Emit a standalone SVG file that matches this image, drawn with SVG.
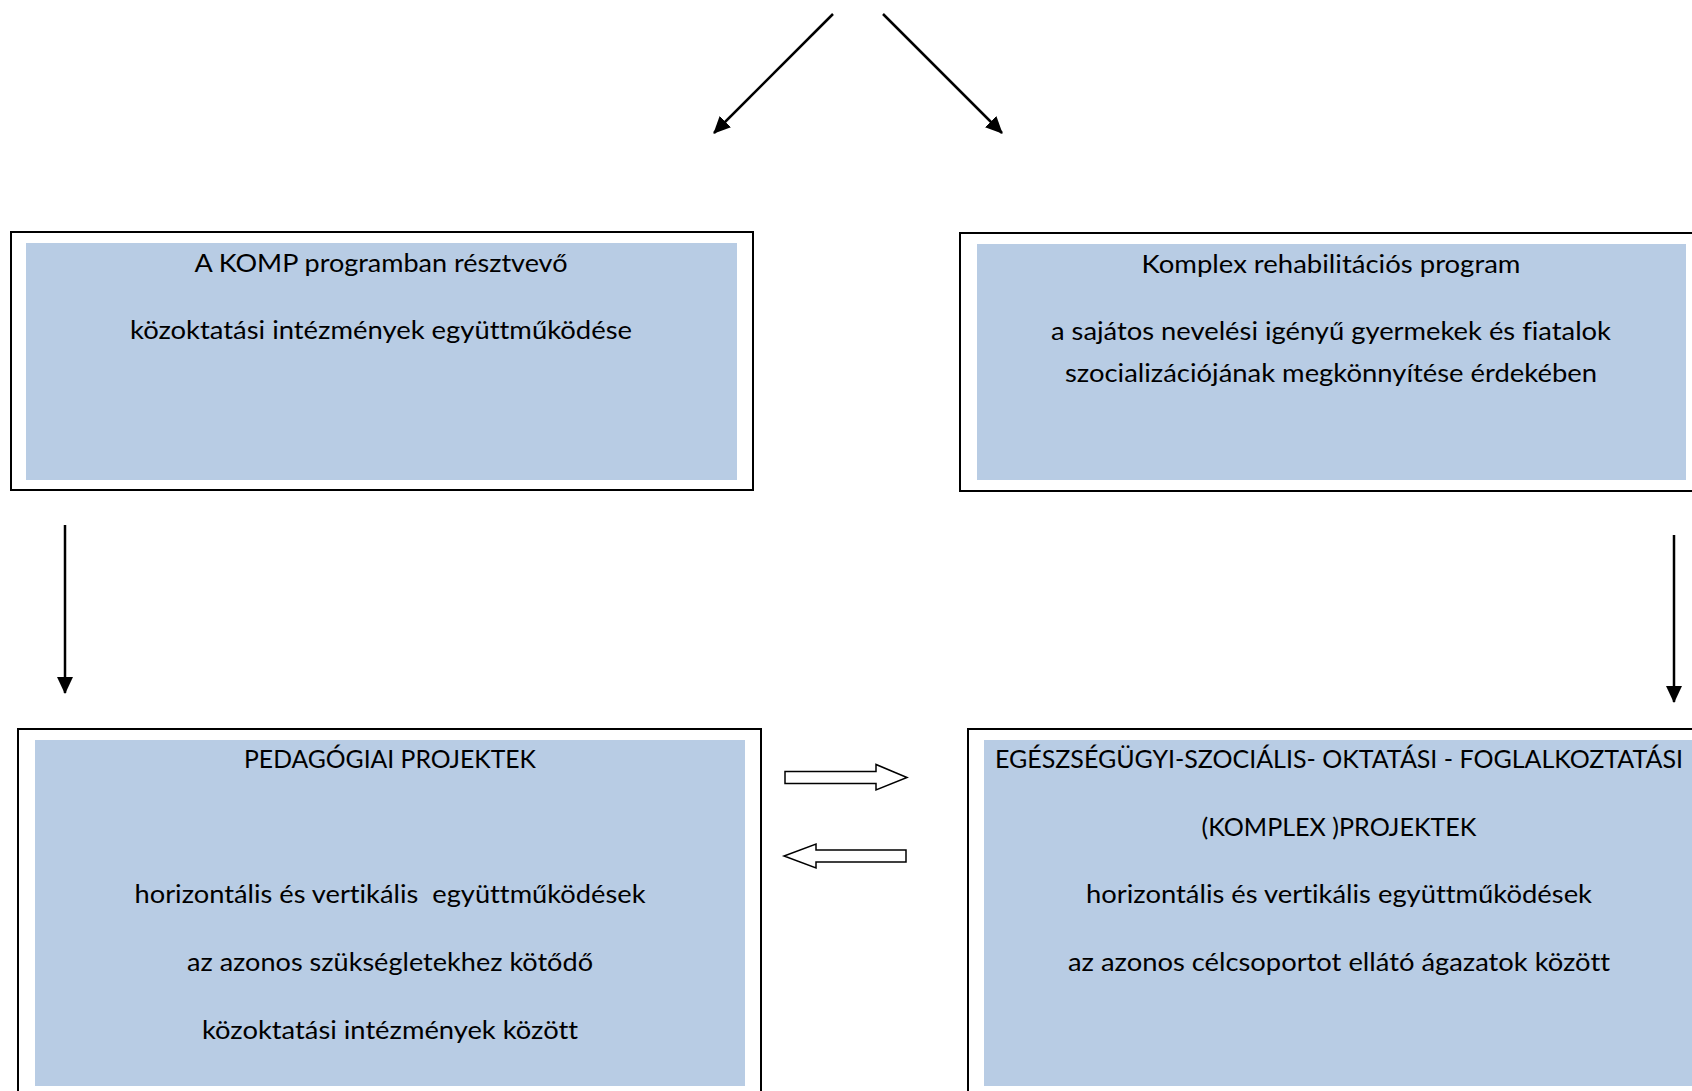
<svg xmlns="http://www.w3.org/2000/svg" width="1692" height="1091" viewBox="0 0 1692 1091">
<style>
.outer{fill:#fff;stroke:#000;stroke-width:2}
.inner{fill:#b8cce4;stroke:none}
.t{font-family:Lato,"Open Sans","Liberation Sans",sans-serif;font-size:25px;fill:#000;text-anchor:middle;white-space:pre;font-variant-ligatures:none;font-feature-settings:"liga" 0,"dlig" 0}
.ln{stroke:#000;stroke-width:2.5;fill:none}
.blk{fill:#fff;stroke:#000;stroke-width:1.5}
</style>
<defs>
<marker id="ah" markerUnits="userSpaceOnUse" markerWidth="18" markerHeight="18" viewBox="0 0 18 18" refX="16" refY="9" orient="auto">
<path d="M0,1 L17,9 L0,17 Z" fill="#000"/>
</marker>
</defs>
<rect width="1692" height="1091" fill="#fff"/>
<g id="node-komp">
<rect class="outer" x="11" y="232" width="742" height="258"/>
<rect class="inner" x="26" y="243" width="711" height="237"/>
<text class="t" x="381" y="272" textLength="373" lengthAdjust="spacingAndGlyphs">A KOMP programban résztvevő</text>
<text class="t" x="381" y="339" textLength="502" lengthAdjust="spacingAndGlyphs">közoktatási intézmények együttműködése</text>
</g>
<g id="node-rehab">
<rect class="outer" x="960" y="233" width="740" height="258"/>
<rect class="inner" x="977" y="244" width="709" height="236"/>
<text class="t" x="1331" y="273" textLength="379" lengthAdjust="spacingAndGlyphs">Komplex rehabilitációs program</text>
<text class="t" x="1331" y="340" textLength="560" lengthAdjust="spacingAndGlyphs">a sajátos nevelési igényű gyermekek és fiatalok</text>
<text class="t" x="1331" y="382" textLength="532" lengthAdjust="spacingAndGlyphs">szocializációjának megkönnyítése érdekében</text>
</g>
<g id="node-pedagogiai">
<rect class="outer" x="18" y="729" width="743" height="380"/>
<rect class="inner" x="35" y="740" width="710" height="346"/>
<text class="t" x="390" y="768" textLength="292" lengthAdjust="spacingAndGlyphs">PEDAGÓGIAI PROJEKTEK</text>
<text class="t" x="390" y="903" textLength="511" lengthAdjust="spacingAndGlyphs">horizontális és vertikális  együttműködések</text>
<text class="t" x="390" y="971" textLength="406" lengthAdjust="spacingAndGlyphs">az azonos szükségletekhez kötődő</text>
<text class="t" x="390" y="1039" textLength="376" lengthAdjust="spacingAndGlyphs">közoktatási intézmények között</text>
</g>
<g id="node-komplex">
<rect class="outer" x="968" y="729" width="740" height="380"/>
<rect class="inner" x="984" y="740" width="708" height="346"/>
<text class="t" x="1339" y="768" textLength="688" lengthAdjust="spacingAndGlyphs">EGÉSZSÉGÜGYI-SZOCIÁLIS- OKTATÁSI - FOGLALKOZTATÁSI</text>
<text class="t" x="1339" y="836" textLength="275" lengthAdjust="spacingAndGlyphs">(KOMPLEX )PROJEKTEK</text>
<text class="t" x="1339" y="903" textLength="506" lengthAdjust="spacingAndGlyphs">horizontális és vertikális együttműködések</text>
<text class="t" x="1339" y="971" textLength="542" lengthAdjust="spacingAndGlyphs">az azonos célcsoportot ellátó ágazatok között</text>
</g>
<g id="connectors">
<line class="ln" x1="833" y1="14" x2="714" y2="133" marker-end="url(#ah)"/>
<line class="ln" x1="883" y1="14" x2="1002" y2="133" marker-end="url(#ah)"/>
<line class="ln" x1="65" y1="525" x2="65" y2="693" marker-end="url(#ah)"/>
<line class="ln" x1="1674" y1="535" x2="1674" y2="702" marker-end="url(#ah)"/>
<path class="blk" d="M785,771.5 L876,771.5 L876,764.5 L907,777.5 L876,790 L876,783.5 L785,783.5 Z"/>
<path class="blk" d="M906,850 L816,850 L816,844 L784,856 L816,868 L816,862 L906,862 Z"/>
</g>
</svg>
